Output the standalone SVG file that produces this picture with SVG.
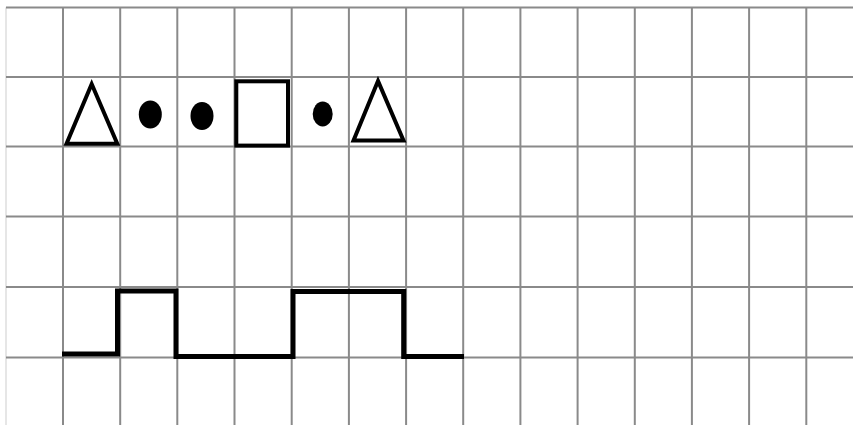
<svg xmlns="http://www.w3.org/2000/svg" width="853" height="425" viewBox="0 0 853 425">
<style>
.grid line{stroke:#8a8a8a;stroke-width:2}
.shape{fill:none;stroke:#000;stroke-width:4;stroke-linejoin:miter}
.dot{fill:#000}
.step{fill:none;stroke:#000;stroke-width:5;stroke-linejoin:miter;stroke-linecap:butt}
</style>
<rect width="853" height="425" fill="#fff"/>
<g id="grid" class="grid">
<line x1="6" y1="7.5" x2="6" y2="425" style="stroke:#e6e6e6"/>
<line x1="63" y1="7.5" x2="63" y2="425"/>
<line x1="120.2" y1="7.5" x2="120.2" y2="425"/>
<line x1="177.3" y1="7.5" x2="177.3" y2="425"/>
<line x1="234.5" y1="7.5" x2="234.5" y2="425"/>
<line x1="291.7" y1="7.5" x2="291.7" y2="425"/>
<line x1="348.9" y1="7.5" x2="348.9" y2="425"/>
<line x1="406.1" y1="7.5" x2="406.1" y2="425"/>
<line x1="463.2" y1="7.5" x2="463.2" y2="425"/>
<line x1="520.4" y1="7.5" x2="520.4" y2="425"/>
<line x1="577.6" y1="7.5" x2="577.6" y2="425"/>
<line x1="634.8" y1="7.5" x2="634.8" y2="425"/>
<line x1="691.9" y1="7.5" x2="691.9" y2="425"/>
<line x1="749.1" y1="7.5" x2="749.1" y2="425"/>
<line x1="806.3" y1="7.5" x2="806.3" y2="425"/>
<line x1="6" y1="7.5" x2="853" y2="7.5"/>
<line x1="6" y1="77" x2="853" y2="77"/>
<line x1="6" y1="146.5" x2="853" y2="146.5"/>
<line x1="6" y1="216.5" x2="853" y2="216.5"/>
<line x1="6" y1="287" x2="853" y2="287"/>
<line x1="6" y1="357.5" x2="853" y2="357.5"/>
</g>
<g id="triangle1"><polygon class="shape" points="91.7,84 66.5,143.7 117.3,143.7"/></g>
<g id="dot1"><ellipse class="dot" cx="150.3" cy="114.5" rx="11.5" ry="14"/></g>
<g id="dot2"><ellipse class="dot" cx="202" cy="116" rx="11.5" ry="14"/></g>
<g id="square"><rect class="shape" x="236.3" y="81.3" width="51.7" height="64.3"/></g>
<g id="dot3"><ellipse class="dot" cx="322.7" cy="114" rx="10" ry="12.5"/></g>
<g id="triangle2"><polygon class="shape" points="378,81 353.5,140.5 403.5,140.5"/></g>
<g id="connectors">
<path class="step" d="M62,354 H117.5 V291 H176 V356.5 H293 V291.5 H403.7 V356.5 H464"/>
</g>
</svg>
